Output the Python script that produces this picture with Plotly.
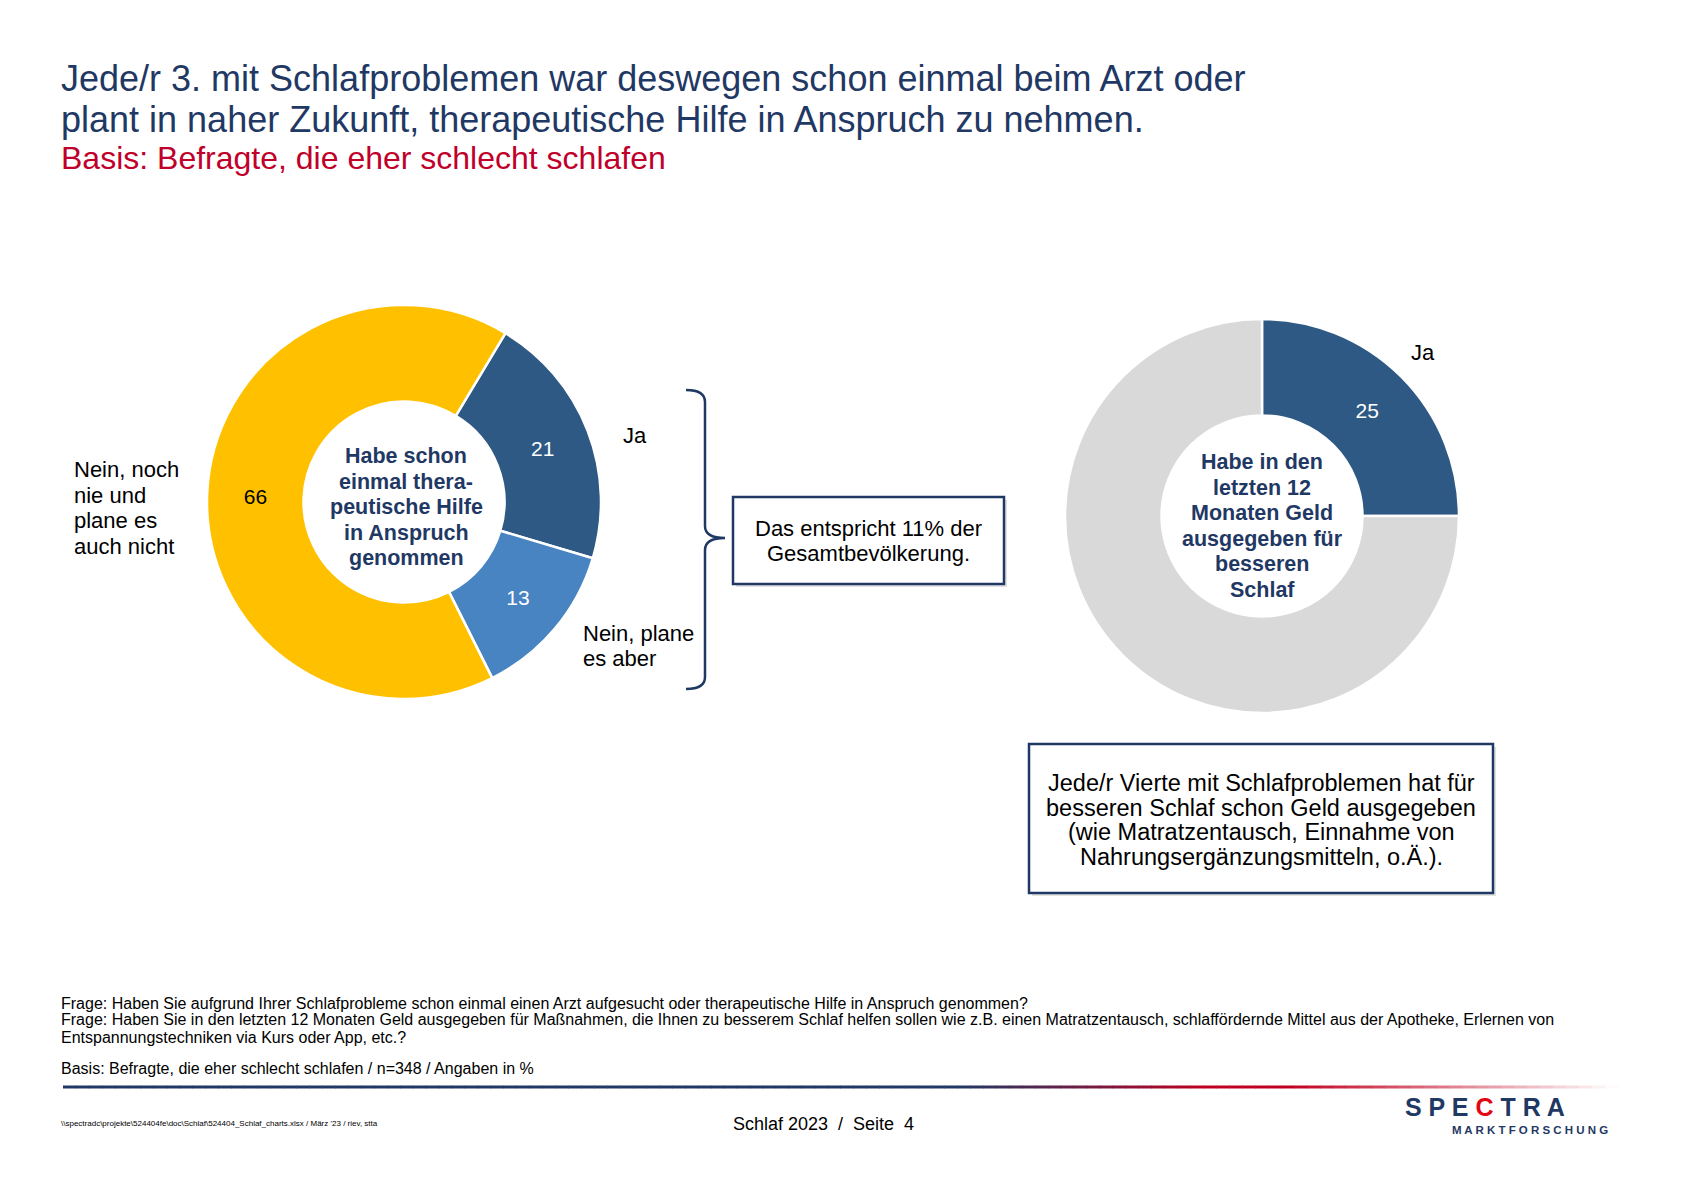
import plotly.graph_objects as go

W, H = 1683, 1190

# ---------------- data ----------------
left_labels = ["Ja", "Nein, plane es aber", "Nein, noch nie und plane es auch nicht"]
left_values = [21, 13, 66]
right_labels = ["Ja", "Nein"]
right_values = [25, 75]

title_lines = ["Jede/r 3. mit Schlafproblemen war deswegen schon einmal beim Arzt oder",
               "plant in naher Zukunft, therapeutische Hilfe in Anspruch zu nehmen."]
subtitle = "Basis: Befragte, die eher schlecht schlafen"
left_center = ["Habe schon", "einmal thera-", "peutische Hilfe", "in Anspruch", "genommen"]
right_center = ["Habe in den", "letzten 12", "Monaten Geld", "ausgegeben für", "besseren", "Schlaf"]
label_ja_left = ["Ja"]
label_plane = ["Nein, plane", "es aber"]
label_nie = ["Nein, noch", "nie und", "plane es", "auch nicht"]
label_ja_right = ["Ja"]
box1_text = ["Das entspricht 11% der", "Gesamtbevölkerung."]
box2_text = ["Jede/r Vierte mit Schlafproblemen hat für", "besseren Schlaf schon Geld ausgegeben",
             "(wie Matratzentausch, Einnahme von", "Nahrungsergänzungsmitteln, o.Ä.)."]
foot_lines = [
    "Frage: Haben Sie aufgrund Ihrer Schlafprobleme schon einmal einen Arzt aufgesucht oder therapeutische Hilfe in Anspruch genommen?",
    "Frage: Haben Sie in den letzten 12 Monaten Geld ausgegeben für Maßnahmen, die Ihnen zu besserem Schlaf helfen sollen wie z.B. einen Matratzentausch, schlaffördernde Mittel aus der Apotheke, Erlernen von",
    "Entspannungstechniken via Kurs oder App, etc.?",
]
basis_line = "Basis: Befragte, die eher schlecht schlafen / n=348 / Angaben in %"
path_text = "\\\\spectradc\\projekte\\524404fe\\doc\\Schlaf\\524404_Schlaf_charts.xlsx / März '23 / riev, stta"
page_text = "Schlaf 2023  /  Seite  4"

# ---------------- style ----------------
FONT = "Liberation Sans, Arial, sans-serif"
NAVY = "#1F3864"
RED = "#C0002A"
YELLOW = "#FFC000"
DBLUE = "#2E5984"
LBLUE = "#4884C2"
GRAY = "#D9D9D9"


def dom(cx, cy, r):
    return dict(x=[(cx - r) / W, (cx + r) / W], y=[1 - (cy + r) / H, 1 - (cy - r) / H])


fig = go.Figure()

# left donut
lcx, lcy, lr = 396, 494, 197
fig.add_trace(go.Pie(
    labels=left_labels, values=left_values, sort=False, direction="clockwise",
    rotation=31, hole=0.51, domain=dom(lcx, lcy, lr),
    marker=dict(colors=[DBLUE, LBLUE, YELLOW], line=dict(color="white", width=2.5)),
    textinfo="value", textposition="inside", insidetextorientation="horizontal",
    textfont=dict(family=FONT, size=21, color=["white", "white", "black"]),
    showlegend=False, hoverinfo="label+value",
))

# right donut
rcx, rcy, rr = 1254, 508, 197
fig.add_trace(go.Pie(
    labels=right_labels, values=right_values, sort=False, direction="clockwise",
    rotation=0, hole=0.51, domain=dom(rcx, rcy, rr),
    marker=dict(colors=[DBLUE, GRAY], line=dict(color="white", width=2.5)),
    texttemplate=["%{value}", ""], textposition="inside", insidetextorientation="horizontal",
    textfont=dict(family=FONT, size=21, color=["white", "black"]),
    showlegend=False, hoverinfo="label+value",
))

# invisible pixel axes for shapes and text
fig.update_layout(
    xaxis=dict(range=[0, W], domain=[0, 1], visible=False, fixedrange=True),
    yaxis=dict(range=[H, 0], domain=[0, 1], visible=False, fixedrange=True),
)

ann = []


def text(x, y, s, size, color="black", xanchor="left", bold=False):
    ann.append(dict(x=x, y=y, xref="x", yref="y", text=("<b>%s</b>" % s) if bold else s,
                    showarrow=False, xanchor=xanchor, yanchor="middle",
                    font=dict(family=FONT, size=size, color=color)))


def lines(x, yc, rows, size, spacing, color="black", xanchor="left", bold=False):
    n = len(rows)
    y0 = yc - spacing * (n - 1) / 2
    for i, r in enumerate(rows):
        text(x, y0 + i * spacing, r, size, color, xanchor, bold)


# titles
text(51, 70, title_lines[0], 36, NAVY)
text(51, 111, title_lines[1], 36, NAVY)
text(51, 150, subtitle, 32, RED)

# donut center texts
lines(lcx + 2, lcy + 5, left_center, 21.5, 25.5, NAVY, "center", bold=True)
lines(rcx, rcy + 10, right_center, 21.5, 25.5, NAVY, "center", bold=True)

# slice labels
lines(613, 427, label_ja_left, 22, 25)
lines(573, 638, label_plane, 22, 25)
lines(64, 500, label_nie, 22, 25.5)
lines(1401, 344, label_ja_right, 22, 25)

# boxes
shapes = []
for (x0, y0, x1, y1) in [(725, 489, 996, 576), (1021, 736, 1485, 885)]:
    shapes.append(dict(type="rect", xref="x", yref="y", x0=x0 + 3, y0=y0 + 3, x1=x1 + 3, y1=y1 + 3,
                       line=dict(width=0), fillcolor="#E2E2E2", layer="below"))
    shapes.append(dict(type="rect", xref="x", yref="y", x0=x0, y0=y0, x1=x1, y1=y1,
                       line=dict(color=NAVY, width=2.5), fillcolor="white"))
lines(860, 533, box1_text, 22, 25.8, "black", "center")
lines(1253, 812, box2_text, 23.5, 24.7, "black", "center")

# curly brace
bx, tipx, top, mid, bot, hook = 697, 717, 382, 530, 681, 678
brace = (f"M {hook},{top} Q {bx},{top} {bx},{top+12} L {bx},{mid-12} "
         f"Q {bx},{mid} {tipx},{mid} Q {bx},{mid} {bx},{mid+12} L {bx},{bot-12} "
         f"Q {bx},{bot} {hook},{bot}")
shapes.append(dict(type="path", xref="x", yref="y", path=brace, line=dict(color=NAVY, width=2.5)))

# footnotes
text(51, 995, foot_lines[0], 16)
text(51, 1011.5, foot_lines[1], 16)
text(51, 1029, foot_lines[2], 16)
text(51, 1060.5, basis_line, 16)

# gradient rule
n = 120
x_start, x_end = 55, 1610


def mix(c1, c2, t):
    return tuple(int(round(a + (b - a) * t)) for a, b in zip(c1, c2))


c_navy, c_red, c_white = (31, 56, 100), (192, 0, 32), (255, 255, 255)
for i in range(n):
    xa = x_start + (x_end - x_start) * i / n
    xb = x_start + (x_end - x_start) * (i + 1) / n
    xm = (xa + xb) / 2
    if xm < 950:
        c = c_navy
    elif xm < 1200:
        c = mix(c_navy, c_red, (xm - 950) / 250)
    elif xm < 1280:
        c = c_red
    else:
        c = mix(c_red, c_white, (xm - 1280) / (x_end - 1280))
    shapes.append(dict(type="line", xref="x", yref="y", x0=xa, x1=xb + 0.5, y0=1079, y1=1079,
                       line=dict(color="rgb(%d,%d,%d)" % c, width=3)))

# footer
text(51, 1115.5, path_text, 8)
text(815, 1115.5, page_text, 18, "black", "center")
ann.append(dict(x=1477, y=1099, xref="x", yref="y", showarrow=False, xanchor="center", yanchor="middle",
                text="<b>S P E <span style='color:#E30613'>C</span> T R A</b>",
                font=dict(family=FONT, size=25, color=NAVY)))
ann.append(dict(x=1522, y=1122, xref="x", yref="y", showarrow=False, xanchor="center", yanchor="middle",
                text="<b>M A R K T F O R S C H U N G</b>",
                font=dict(family=FONT, size=11.5, color=NAVY)))

fig.update_layout(
    width=W, height=H, margin=dict(l=0, r=0, t=0, b=0),
    paper_bgcolor="white", plot_bgcolor="white",
    annotations=ann, shapes=shapes,
)

fig.write_html("out.html")
